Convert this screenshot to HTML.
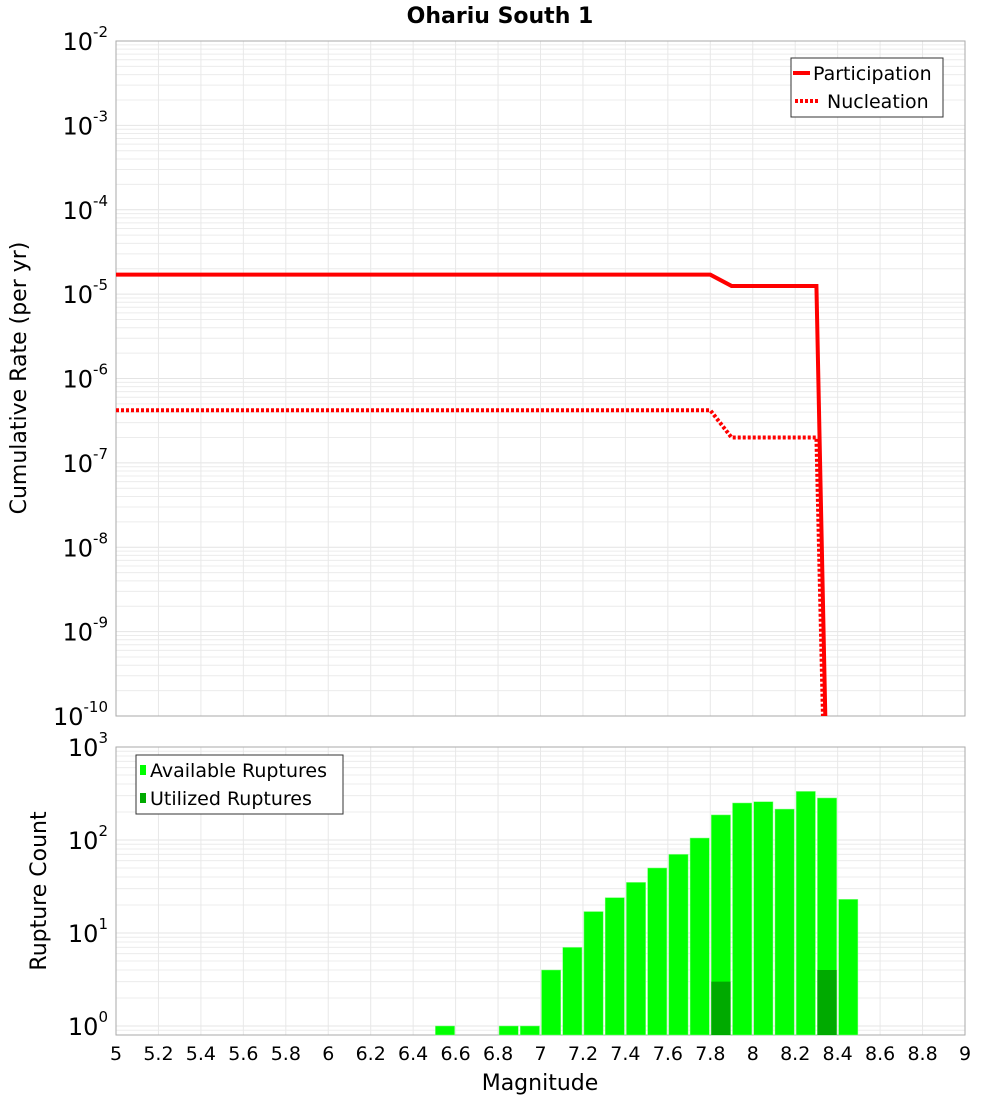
<!DOCTYPE html>
<html><head><meta charset="utf-8"><style>
body{margin:0;background:#fff;}
svg{display:block;font-family:"DejaVu Sans","Liberation Sans",sans-serif;}
</style></head><body>
<svg id="c" width="1000" height="1100" xmlns="http://www.w3.org/2000/svg">
<text x="500" y="23" text-anchor="middle" font-size="22" font-weight="bold">Ohariu South 1</text>
<g id="gtop"></g>
<g id="gbot"></g>
<text transform="translate(26,378) rotate(-90)" text-anchor="middle" font-size="22">Cumulative Rate (per yr)</text>
<text transform="translate(46,891) rotate(-90)" text-anchor="middle" font-size="22">Rupture Count</text>
<text x="540" y="1090" text-anchor="middle" font-size="22">Magnitude</text>
<g>
<rect x="791" y="58" width="152" height="59" fill="#fff" stroke="#333" stroke-width="1"/>
<line x1="793" y1="73" x2="810" y2="73" stroke="#f00" stroke-width="4"/>
<text x="813" y="80" font-size="19">Participation</text>
<line x1="795" y1="101" x2="819" y2="101" stroke="#f00" stroke-width="4" stroke-dasharray="3,2"/>
<text x="827" y="108" font-size="19">Nucleation</text>
</g>
<g>
<rect x="136" y="755" width="207" height="59" fill="#fff" stroke="#333" stroke-width="1"/>
<rect x="140" y="765" width="6" height="10" fill="#00ff00"/>
<text x="150" y="777" font-size="19">Available Ruptures</text>
<rect x="140" y="793" width="6" height="10" fill="#00aa00"/>
<text x="150" y="805" font-size="19">Utilized Ruptures</text>
</g>
</svg>
<script>
const partMag=[5,7.8,7.9,8.3,8.35];
const partRate=[1.7e-5,1.7e-5,1.25e-5,1.25e-5,1e-11];
const nuclMag=[5,7.8,7.9,8.3,8.34];
const nuclRate=[4.2e-7,4.2e-7,2e-7,2e-7,1e-11];
const binStart=[6.5,6.8,6.9,7.0,7.1,7.2,7.3,7.4,7.5,7.6,7.7,7.8,7.9,8.0,8.1,8.2,8.3,8.4];
const available=[1,1,1,4,7,17,24,35,50,70,105,186,250,258,215,333,283,23];
const utilBin=[7.8,8.3];
const utilized=[3,4];
const xTicks=[5,5.2,5.4,5.6,5.8,6,6.2,6.4,6.6,6.8,7,7.2,7.4,7.6,7.8,8,8.2,8.4,8.6,8.8,9];
const NS="http://www.w3.org/2000/svg";
const X0=116,X1=965;
const xs=m=>X0+(m-5)/4*(X1-X0);
const T0=41,T1=716; const yt=v=>T0+(-2-Math.log10(v))/8*(T1-T0);
const B0=747,B1=1035,BPD=93; const yb=v=>B0+(3-Math.log10(v))*BPD;
function el(p,t,a){const e=document.createElementNS(NS,t);for(const k in a)e.setAttribute(k,a[k]);p.appendChild(e);return e;}
const svgRoot=document.getElementById('c');
const gTop=document.getElementById('gtop'),gBot=document.getElementById('gbot');
function grid(g,y0,y1,yf,dmin,dmax){
  for(let d=dmin;d<dmax;d++)for(let k=1;k<10;k++){const y=yf(k*Math.pow(10,d));if(y>=y0&&y<=y1){const l=el(g,'line',{x1:X0,x2:X1,y1:y,y2:y,stroke:k==1?'#e4e4e4':'#ececec','stroke-width':1});}}
  xTicks.forEach(m=>{const l=el(g,'line',{x1:xs(m),x2:xs(m),y1:y0,y2:y1,stroke:'#e8e8e8','stroke-width':1});});
  const r=el(g,'rect',{x:X0,y:y0,width:X1-X0,height:y1-y0,fill:'none',stroke:'#aaa','stroke-width':1});
  
}
function ylabel(y,e){const t=el(svgRoot,'text',{x:108,y:y+9,'text-anchor':'end','font-size':24});
  
  t.textContent='10';const s=el(t,'tspan',{dy:-13,'font-size':15});s.textContent=e;}
grid(gTop,T0,T1,yt,-10,-1);
for(let e=-2;e>=-10;e--)ylabel(yt(Math.pow(10,e)),String(e));
grid(gBot,B0,B1,yb,-1,3);
for(let e=0;e<=3;e++)ylabel(yb(Math.pow(10,e)),String(e));
xTicks.forEach(m=>{const t=el(svgRoot,'text',{x:xs(m),y:1060,'text-anchor':'middle','font-size':19});
  t.textContent=String(m);});
const cp=el(gTop,'clipPath',{id:'cp'});el(cp,'rect',{x:X0,y:T0,width:X1-X0,height:T1-T0});
const p1=el(gTop,'polyline',{points:partMag.map((m,i)=>xs(m)+','+yt(partRate[i])).join(' '),fill:'none',stroke:'#f00','stroke-width':4,'clip-path':'url(#cp)'});


const p2=el(gTop,'polyline',{points:nuclMag.map((m,i)=>xs(m)+','+yt(nuclRate[i])).join(' '),fill:'none',stroke:'#f00','stroke-width':4,'stroke-dasharray':'3,2','clip-path':'url(#cp)'});


binStart.forEach((m,i)=>{const x=xs(m)+1,w=xs(m+0.1)-xs(m)-2,y=yb(available[i]);
  const r=el(gBot,'rect',{x:x,y:y,width:w,height:B1-y,fill:'#00ff00',stroke:'#7fff7f','stroke-width':0.5});
  
  });
utilBin.forEach((m,i)=>{const x=xs(m)+1,w=xs(m+0.1)-xs(m)-2,y=yb(utilized[i]);
  const r=el(gBot,'rect',{x:x,y:y,width:w,height:B1-y,fill:'#00aa00'});
  
  });
</script>
</body></html>
